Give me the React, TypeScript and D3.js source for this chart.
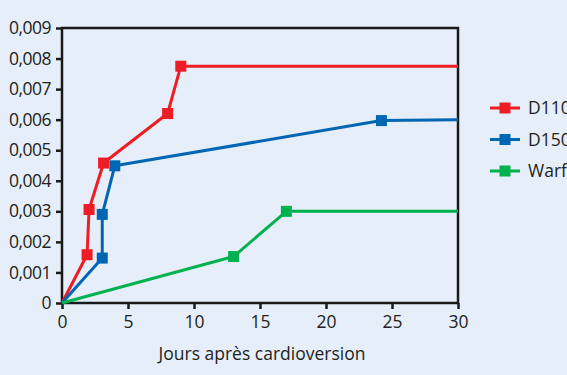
import { useEffect, useRef } from "react";
import * as d3 from "d3";

type Pt = [number, number];

const D110: Pt[] = [[0, 0], [1.9, 0.00158], [2.05, 0.00306], [3.15, 0.00458], [8.0, 0.0062], [9.0, 0.00775], [30, 0.00775]];
const D150: Pt[] = [[0, 0], [3.05, 0.00147], [3.05, 0.0029], [4.0, 0.00449], [24.2, 0.00597], [30, 0.006]];
const WARFARINE: Pt[] = [[0, 0], [13.0, 0.00152], [17.0, 0.003], [30, 0.003]];

const SERIES = [
  { label: "D110", color: "#ee1c25", data: D110 },
  { label: "D150", color: "#0066b3", data: D150 },
  { label: "Warfarine", color: "#00b14f", data: WARFARINE },
];

const X_TICKS = [0, 5, 10, 15, 20, 25, 30];
const Y_TICKS = [0, 0.001, 0.002, 0.003, 0.004, 0.005, 0.006, 0.007, 0.008, 0.009];

const FONT = "'Open Sans', sans-serif";
const FS = "17.5px";
const INK = "#231f20";
const BG = "#e5eef9";

export default function App() {
  const svgRef = useRef<SVGSVGElement>(null);

  useEffect(() => {
    const svg = d3.select(svgRef.current);
    svg.selectAll("*").remove();

    const margin = { left: 62, top: 28, right: 109, bottom: 72 };
    const width = 567, height = 375;
    const innerW = width - margin.left - margin.right;
    const innerH = height - margin.top - margin.bottom;

    svg.append("rect").attr("width", width).attr("height", height).attr("fill", BG);

    const x = d3.scaleLinear().domain([0, 30]).range([0, innerW]);
    const y = d3.scaleLinear().domain([0, 0.009]).range([innerH, 0]);

    const g = svg.append("g").attr("transform", `translate(${margin.left},${margin.top})`);

    // frame
    g.append("rect")
      .attr("width", innerW).attr("height", innerH)
      .attr("fill", "none").attr("stroke", "#1a1a1a").attr("stroke-width", 2.5);

    const fmt = (v: number) => (v === 0 ? "0" : v.toFixed(3).replace(".", ","));

    g.append("g").attr("transform", `translate(0,${innerH})`)
      .call(d3.axisBottom(x).tickValues(X_TICKS).tickSize(6).tickPadding(7).tickFormat((d) => String(d)))
      .call((sel) => {
        sel.select(".domain").remove();
        sel.selectAll(".tick line").attr("stroke", "#1a1a1a").attr("stroke-width", 2.5);
        sel.selectAll(".tick text").attr("fill", INK).attr("font-size", FS).attr("font-family", FONT);
      });

    g.append("g")
      .call(d3.axisLeft(y).tickValues(Y_TICKS).tickSize(6).tickPadding(5).tickFormat((d) => fmt(+d)))
      .call((sel) => {
        sel.select(".domain").remove();
        sel.selectAll(".tick line").attr("stroke", "#1a1a1a").attr("stroke-width", 2.5);
        sel.selectAll(".tick text").attr("fill", INK).attr("font-size", FS).attr("font-family", FONT)
          .attr("letter-spacing", "-0.5px");
      });

    g.append("text")
      .attr("x", innerW / 2 + 2).attr("y", innerH + 57)
      .attr("text-anchor", "middle").attr("fill", INK)
      .attr("font-size", FS).attr("font-family", FONT)
      .text("Jours après cardioversion");

    const line = d3.line<Pt>().x((d) => x(d[0])).y((d) => y(d[1]));
    const ms = 11;

    for (const s of SERIES) {
      g.append("path").datum(s.data)
        .attr("d", line).attr("fill", "none")
        .attr("stroke", s.color).attr("stroke-width", 3).attr("stroke-linejoin", "round");
      g.selectAll(null)
        .data(s.data.slice(1, -1))
        .enter().append("rect")
        .attr("x", (d) => x(d[0]) - ms / 2).attr("y", (d) => y(d[1]) - ms / 2)
        .attr("width", ms).attr("height", ms).attr("fill", s.color);
    }

    // legend
    const lg = svg.append("g").attr("transform", "translate(490,108)");
    SERIES.forEach((s, i) => {
      const row = lg.append("g").attr("transform", `translate(0,${i * 31.5})`);
      row.append("line").attr("x1", 0).attr("x2", 30).attr("stroke", s.color).attr("stroke-width", 3);
      row.append("rect").attr("x", 15 - ms / 2).attr("y", -ms / 2).attr("width", ms).attr("height", ms).attr("fill", s.color);
      row.append("text").attr("x", 38).attr("y", 0).attr("dy", "0.35em")
        .attr("fill", INK).attr("font-size", FS).attr("font-family", FONT)
        .text(s.label);
    });
  }, []);

  return (
    <div style={{ position: "fixed", left: 0, top: 0, width: 567, height: 375, overflow: "hidden" }}>
      <svg ref={svgRef} width={567} height={375} style={{ display: "block" }} />
    </div>
  );
}
